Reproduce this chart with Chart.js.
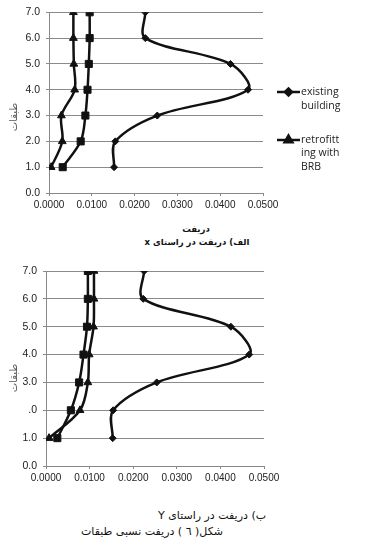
<!doctype html>
<html lang="fa">
  <head>
    <meta charset="utf-8">
    <title>Story drift</title>
    <style>
      * { margin: 0; padding: 0; }
      body { width: 367px; height: 558px; background: #fff; position: relative; overflow: hidden; font-family: "DejaVu Sans", sans-serif; }
      canvas { position: absolute; left: 0; }
      #chartX { top: 0; }
      #chartY { top: 250px; }
      .txt { position: absolute; transform: translate(-50%, -50%); white-space: nowrap; color: #111; }
      .ytitle { transform: translate(-50%, -50%) rotate(-90deg); font-size: 10px; color: #555; }
      .small { font-size: 8.5px; font-weight: bold; }
      .cap { font-size: 11px; }
    </style>
  </head>
  <body>
    <canvas id="chartX" width="367" height="215"></canvas>
    <canvas id="chartY" width="367" height="240"></canvas>

    <div class="txt ytitle" style="left:13px; top:117px;">طبقات</div>
    <div class="txt small" dir="rtl" style="left:196px; top:229px;">دریفت</div>
    <div class="txt small" dir="rtl" style="left:197px; top:242px;">الف) دریفت در راستای x</div>

    <div class="txt ytitle" style="left:13px; top:378px;">طبقات</div>
    <div class="txt cap" dir="rtl" style="left:212px; top:515px;">ب) دریفت در راستای Y</div>
    <div class="txt cap" dir="rtl" style="left:152px; top:531px;">شکل( ٦ ) دریفت نسبی طبقات</div>

    <script src="https://cdn.jsdelivr.net/npm/chart.js/dist/chart.umd.min.js"></script>
    <script>
    // setup
    const floors = [1, 2, 3, 4, 5, 6, 7];
    const xTickLabels = ['0.0000', '0.0100', '0.0200', '0.0300', '0.0400', '0.0500'];
    const yTickLabelsTop = ['0.0', '1.0', '2.0', '3.0', '4.0', '5.0', '6.0', '7.0'];
    const yTickLabelsBottom = ['0.0', '1.0', '.0', '3.0', '4.0', '5.0', '6.0', '7.0'];

    // drift in X direction
    const existingX = [0.0152, 0.0155, 0.0253, 0.0465, 0.0424, 0.0225, 0.0225];
    const squareX   = [0.0032, 0.0074, 0.0085, 0.0090, 0.0093, 0.0095, 0.0095];
    const brbX      = [0.0005, 0.0031, 0.0029, 0.0060, 0.0058, 0.0057, 0.0057];

    // drift in Y direction
    const existingY = [0.0153, 0.0154, 0.0254, 0.0466, 0.0424, 0.0223, 0.0225];
    const squareY   = [0.0026, 0.0057, 0.0076, 0.0086, 0.0094, 0.0096, 0.0096];
    const brbY      = [0.0007, 0.0078, 0.0096, 0.0099, 0.0109, 0.0110, 0.0110];

    const legendItems = [
      { lines: ['existing', 'building'], style: 'rectRot', radius: 3.5 },
      { lines: ['retrofitt', 'ing with', 'BRB'], style: 'triangle', radius: 4.5 }
    ];

    const toPoints = (vals) => vals.map((v, i) => ({ x: v, y: floors[i] }));

    function makeSets(existing, square, brb) {
      const common = { showLine: true, tension: 0.33, borderColor: '#111', backgroundColor: '#111', borderWidth: 2.5, pointBorderWidth: 1 };
      return [
        Object.assign({ label: 'existing building', data: toPoints(existing), pointStyle: 'rectRot', pointRadius: 3.5 }, common),
        Object.assign({ label: 'retrofitting', data: toPoints(square), pointStyle: 'rect', pointRadius: 5 }, common),
        Object.assign({ label: 'retrofitting with BRB', data: toPoints(brb), pointStyle: 'triangle', pointRadius: 4.5 }, common)
      ];
    }

    // legend drawn by hand so the text can wrap like the original
    const sideLegend = {
      id: 'sideLegend',
      afterDraw(chart) {
        const ctx = chart.ctx;
        const rows = [[92, 106], [140, 153, 167]];
        ctx.save();
        legendItems.forEach((item, k) => {
          const y0 = rows[k][0];
          ctx.strokeStyle = '#111';
          ctx.lineWidth = 2.5;
          ctx.beginPath();
          ctx.moveTo(277, y0);
          ctx.lineTo(300, y0);
          ctx.stroke();
          ctx.fillStyle = '#111';
          Chart.helpers.drawPoint(ctx, { pointStyle: item.style, radius: item.radius, borderWidth: 1 }, 288.5, y0);
          ctx.fillStyle = '#222';
          ctx.font = '10.5px "Open Sans", sans-serif';
          ctx.textBaseline = 'middle';
          ctx.textAlign = 'left';
          item.lines.forEach((t, j) => ctx.fillText(t, 301, rows[k][j]));
        });
        ctx.restore();
      }
    };

    function makeConfig(sets, yLabels, pad, yWidth, xHeight, withLegend) {
      return {
        type: 'scatter',
        data: { datasets: sets },
        options: {
          responsive: false,
          animation: false,
          devicePixelRatio: 1,
          layout: { padding: pad },
          plugins: { legend: { display: false }, tooltip: { enabled: false } },
          scales: {
            x: {
              type: 'linear',
              min: 0,
              max: 0.05,
              afterFit: (s) => { s.height = xHeight; },
              grid: { drawOnChartArea: false, drawTicks: true, tickLength: 3, color: '#888' },
              border: { color: '#888', width: 1 },
              ticks: {
                stepSize: 0.01,
                padding: 3,
                color: '#222',
                font: { family: 'Liberation Sans', size: 10 },
                callback: (v) => xTickLabels[Math.round(v / 0.01)]
              }
            },
            y: {
              type: 'linear',
              min: 0,
              max: 7,
              afterFit: (s) => { s.width = yWidth; },
              grid: { color: '#8a8a8a', lineWidth: 1, tickLength: 3 },
              border: { color: '#888', width: 1 },
              ticks: {
                stepSize: 1,
                padding: 6,
                color: '#222',
                font: { family: 'Liberation Sans', size: 10.5 },
                callback: (v) => yLabels[Math.round(v)]
              }
            }
          }
        },
        plugins: withLegend ? [sideLegend] : []
      };
    }

    // render init block
    const chartX = new Chart(
      document.getElementById('chartX'),
      makeConfig(makeSets(existingX, squareX, brbX), yTickLabelsTop,
        { top: 11, right: 104, left: 0, bottom: 0 }, 49, 22, true)
    );
    const chartY = new Chart(
      document.getElementById('chartY'),
      makeConfig(makeSets(existingY, squareY, brbY), yTickLabelsBottom,
        { top: 21, right: 103, left: 0, bottom: 0 }, 46, 24, false)
    );
    </script>
  </body>
</html>
